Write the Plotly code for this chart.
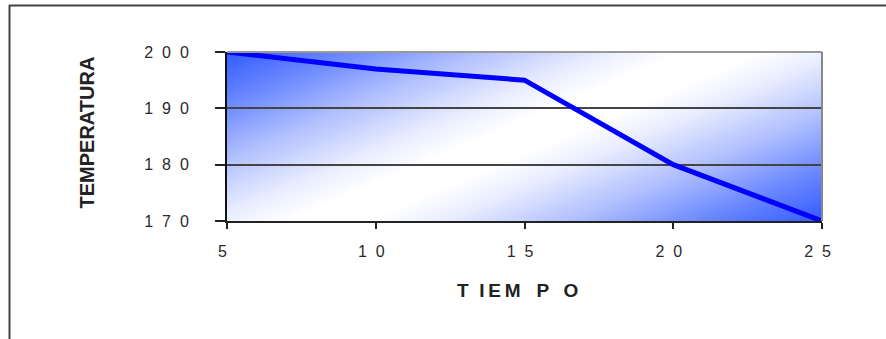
import base64
import plotly.graph_objects as go

# ---- data ----
tiempo = [5, 10, 15, 20, 25]
temperatura = [200, 197, 195, 180, 170]

x_ticks = [5, 10, 15, 20, 25]
x_ticktext = ["5", "1 0", "1 5", "2 0", "2 5"]
y_ticks = [170, 180, 190, 200]
y_ticktext = ["1 7 0", "1 8 0", "1 9 0", "2 0 0"]

x_title = "T IEM P O"
y_title = "TEMPERATURA"

# ---- layout geometry (pixels) ----
W, H = 886, 339
L, R, T, B = 227, 822, 52, 221
pw, ph = R - L, B - T


def px(x):
    return (x - L) / pw


def py(y):
    return (B - y) / ph


NB = "\u00a0"
TH = "\u2009"
GAP = NB + NB


def spaced(s):
    return s.replace(" ", GAP)


xt = [spaced(t) + GAP for t in x_ticktext]
yt = [spaced(t) for t in y_ticktext]

# x title with letter gaps: "T", "IEM", "P", "O"
parts = x_title.split(" ")
xtitle_txt = (NB * 2).join([parts[0], TH.join(list(parts[1]))])
xtitle_txt = xtitle_txt + NB * 3 + parts[2] + NB * 2 + TH + parts[3]

# ---- gradient background (style only) ----
svg = f'''<svg xmlns="http://www.w3.org/2000/svg" width="{pw}" height="{ph}" viewBox="0 0 {pw} {ph}" preserveAspectRatio="none">
<defs><linearGradient id="g" x1="0" y1="0" x2="1.154" y2="0.769">
<stop offset="0" stop-color="rgb(50,90,255)"/>
<stop offset="0.12" stop-color="rgb(105,135,255)"/>
<stop offset="0.25" stop-color="rgb(175,190,255)"/>
<stop offset="0.38" stop-color="rgb(232,236,255)"/>
<stop offset="0.46" stop-color="rgb(255,255,255)"/>
<stop offset="0.54" stop-color="rgb(255,255,255)"/>
<stop offset="0.62" stop-color="rgb(232,236,255)"/>
<stop offset="0.75" stop-color="rgb(175,190,255)"/>
<stop offset="0.88" stop-color="rgb(105,135,255)"/>
<stop offset="1" stop-color="rgb(50,90,255)"/>
</linearGradient></defs>
<rect x="0" y="0" width="{pw}" height="{ph}" fill="url(#g)"/>
</svg>'''
src = "data:image/svg+xml;base64," + base64.b64encode(svg.encode()).decode()

fig = go.Figure()
fig.add_trace(go.Scatter(
    x=tiempo, y=temperatura, mode="lines",
    line=dict(color="#0000ff", width=5),
    hoverinfo="skip", showlegend=False,
))

font_fam = "Arial, Liberation Sans, sans-serif"

fig.update_layout(
    width=W, height=H,
    margin=dict(l=L, r=W - R, t=T, b=H - B, autoexpand=False),
    paper_bgcolor="white",
    plot_bgcolor="rgba(0,0,0,0)",
    images=[dict(source=src, xref="paper", yref="paper", x=0, y=1,
                 sizex=1, sizey=1, sizing="stretch", layer="below",
                 xanchor="left", yanchor="top")],
    xaxis=dict(
        range=[5, 25], tickmode="array", tickvals=x_ticks, ticktext=xt,
        showgrid=False, zeroline=False,
        showline=True, linecolor="#222", linewidth=2,
        ticks="outside", ticklen=6, tickwidth=2, tickcolor="#222",
        ticklabelstandoff=9,
        tickfont=dict(family=font_fam, size=16, color="#2a2a2a"),
    ),
    yaxis=dict(
        range=[170, 200], tickmode="array", tickvals=y_ticks, ticktext=yt,
        showgrid=True, gridcolor="#444", gridwidth=2,
        zeroline=False,
        showline=True, linecolor="#111", linewidth=2,
        ticks="outside", ticklen=10, tickwidth=2, tickcolor="#222",
        ticklabelstandoff=23,
        tickfont=dict(family=font_fam, size=16, color="#2a2a2a"),
    ),
    annotations=[
        dict(text=f"<b>{y_title}</b>", xref="paper", yref="paper",
             x=px(86), y=py(132.5), textangle=-90, showarrow=False,
             xanchor="center", yanchor="middle",
             font=dict(family=font_fam, size=20, color="#222")),
        dict(text="<b>" + xtitle_txt + "</b>",
             xref="paper", yref="paper",
             x=px(517), y=py(290), showarrow=False,
             xanchor="center", yanchor="middle",
             font=dict(family=font_fam, size=19, color="#222")),
    ],
    shapes=[
        # plot frame top / right (grey)
        dict(type="line", xref="paper", yref="paper", x0=0, x1=1, y0=1, y1=1,
             line=dict(color="#999", width=2), layer="above"),
        dict(type="line", xref="paper", yref="paper", x0=1, x1=1, y0=0, y1=1,
             line=dict(color="#888", width=2), layer="above"),
        # outer border top / left
        dict(type="line", xref="paper", yref="paper",
             x0=px(9), x1=px(W + 2), y0=py(5.5), y1=py(5.5),
             line=dict(color="#444", width=2)),
        dict(type="line", xref="paper", yref="paper",
             x0=px(9.5), x1=px(9.5), y0=py(5), y1=py(H + 2),
             line=dict(color="#444", width=2)),
    ],
)

fig.write_html("out.html",
               config={"displayModeBar": False},
               post_script="document.body.style.margin='0';document.body.style.overflow='hidden';")
